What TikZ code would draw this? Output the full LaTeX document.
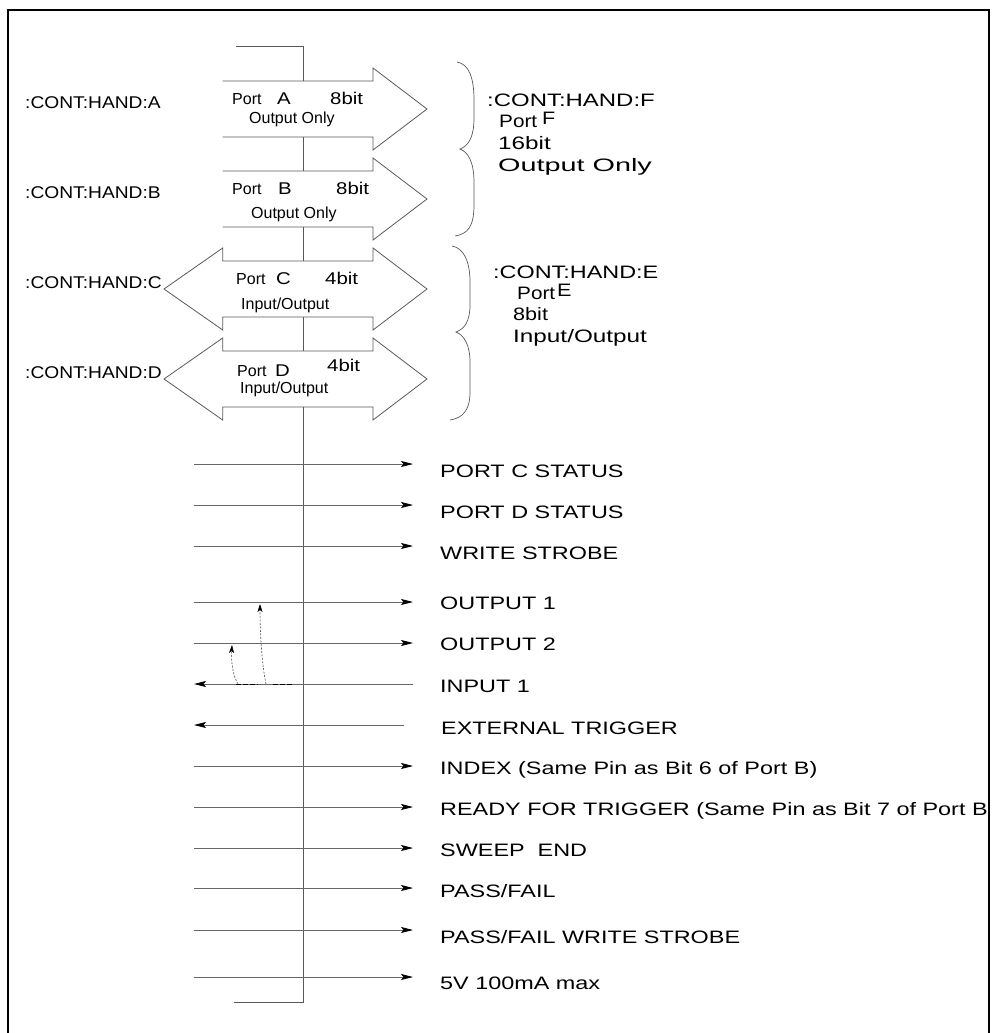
\documentclass[tikz,border=0pt]{standalone}
\usepackage{fontspec}
\setmainfont{Liberation Sans}
\usetikzlibrary{arrows.meta}
\newcommand{\RX}[2]{\scalebox{#1}[1]{\fontsize{18}{18}\selectfont #2}}
\newcommand{\RT}[1]{\RX{1.3}{#1}}
\newcommand{\LT}[1]{\scalebox{1.13}[1]{\fontsize{17}{17}\selectfont #1}}
\newcommand{\PT}[1]{{\fontsize{16}{16}\selectfont #1}}
\newcommand{\BT}[1]{\scalebox{1.2}[1]{\fontsize{17}{17}\selectfont #1}}
\begin{document}
\begin{tikzpicture}[x=1pt,y=-1pt,
  outline/.style={draw=black!65,line width=0.8pt},
  sig/.style={draw=black!60,line width=0.8pt,-{Stealth[length=12pt,width=6pt,inset=2.5pt,black]}},
  txt/.style={inner sep=0pt,anchor=base west},
  dotc/.style={draw=black!70,line width=0.6pt,dash pattern=on 2pt off 1.5pt,-{Stealth[length=8pt,width=5pt,inset=2pt,black]}},
  brace/.style={draw=black!65,line width=0.7pt}]
\useasboundingbox (0,0) rectangle (991,1033);

% top stub
\coordinate (stubL) at (236,46);
\coordinate (stubC) at (303,46);
\coordinate (aTop) at (303,81);
\draw[outline] (stubL) -- (stubC) -- (aTop);

% right-pointing port arrows A, B
\foreach \cy in {109,199}{
  \draw[outline] (222.7,{\cy-28}) -- (373,{\cy-28}) -- (373,{\cy-41}) -- (427,\cy)
     -- (373,{\cy+41}) -- (373,{\cy+28}) -- (222.7,{\cy+28});
}
% double arrows C, D
\foreach \cy in {289,379}{
  \draw[outline] (164,\cy) -- (222.7,{\cy-41}) -- (222.7,{\cy-28}) -- (373,{\cy-28}) -- (373,{\cy-41}) -- (427,\cy)
     -- (373,{\cy+41}) -- (373,{\cy+28}) -- (222.7,{\cy+28}) -- (222.7,{\cy+41}) -- cycle;
}
% centre bus line
\coordinate (ab1) at (303,137); \coordinate (ab2) at (303,171);
\coordinate (bc1) at (303,227); \coordinate (bc2) at (303,261);
\coordinate (cd1) at (303,317); \coordinate (cd2) at (303,351);
\coordinate (bus1) at (303,407); \coordinate (bus2) at (303,1002); \coordinate (bus3) at (234,1002);
\draw[outline] (ab1) -- (ab2);
\draw[outline] (bc1) -- (bc2);
\draw[outline] (cd1) -- (cd2);
\draw[outline] (bus1) -- (bus2) -- (bus3);

% port texts
\node[txt] (pA) at (232,104) {\PT{Port}};
\node[txt] (pAl) at (277,104) {\BT{A}};
\node[txt] (pAb) at (330,104) {\BT{8bit}};
\node[txt] (pAo) at (249,123) {\PT{Output Only}};
\node[txt] (pB) at (232,194) {\PT{Port}};
\node[txt] (pBl) at (278,194) {\BT{B}};
\node[txt] (pBb) at (336,194) {\BT{8bit}};
\node[txt] (pBo) at (251,218) {\PT{Output Only}};
\node[txt] (pC) at (236,284) {\PT{Port}};
\node[txt] (pCl) at (276,284) {\BT{C}};
\node[txt] (pCb) at (325,284) {\BT{4bit}};
\node[txt] (pCo) at (241,309) {\PT{Input/Output}};
\node[txt] (pD) at (237,376) {\PT{Port}};
\node[txt] (pDl) at (275,376) {\BT{D}};
\node[txt] (pDb) at (327,371) {\BT{4bit}};
\node[txt] (pDo) at (240,393) {\PT{Input/Output}};

% left labels
\node[txt] (hA) at (25,108) {\LT{:CONT:HAND:A}};
\node[txt] (hB) at (25,198) {\LT{:CONT:HAND:B}};
\node[txt] (hC) at (25,288) {\LT{:CONT:HAND:C}};
\node[txt] (hD) at (25,378) {\LT{:CONT:HAND:D}};

% braces
\draw[brace] (457,62) .. controls (469,64) and (474,78) .. (474,100) -- (474,118)
  .. controls (474,138) and (468,146) .. (460,149) .. controls (468,152) and (474,162) .. (474,182)
  -- (474,205) .. controls (474,226) and (468,234) .. (455,236);
\draw[brace] (452,246) .. controls (464,248) and (470,262) .. (470,282) -- (470,305)
  .. controls (470,322) and (464,329) .. (456,332) .. controls (464,335) and (470,345) .. (470,362)
  -- (470,392) .. controls (470,410) and (463,418) .. (450,420);

% right group texts
\node[txt] (hF) at (487,106) {\RX{1.33}{:CONT:HAND:F}};
\node[txt] (hF1) at (499,127) {\RX{1.15}{Port}};
\node[txt] (hF1b) at (542,124) {\RX{1.2}{F}};
\node[txt] (hF2) at (498,149) {\RX{1.35}{16bit}};
\node[txt] (hF3) at (498,171) {\RX{1.6}{Output Only}};
\node[txt] (hE) at (493,278) {\RX{1.3}{:CONT:HAND:E}};
\node[txt] (hE1) at (517,299) {\RX{1.15}{Port}};
\node[txt] (hE1b) at (557,296) {\RX{1.2}{E}};
\node[txt] (hE2) at (513,320) {\RX{1.2}{8bit}};
\node[txt] (hE3) at (513,342) {\RX{1.35}{Input/Output}};

% signal lines
\coordinate (s1L) at (194,464); \coordinate (s1R) at (413,464);
\coordinate (s2L) at (194,505); \coordinate (s2R) at (413,505);
\coordinate (s3L) at (194,546); \coordinate (s3R) at (413,546);
\coordinate (s4L) at (194,602); \coordinate (s4R) at (413,602);
\coordinate (s5L) at (194,643); \coordinate (s5R) at (413,643);
\coordinate (s6L) at (194,684); \coordinate (s6R) at (413,684);
\coordinate (s7L) at (194,725); \coordinate (s7R) at (404,725);
\coordinate (s8L) at (194,766); \coordinate (s8R) at (413,766);
\coordinate (s9L) at (194,807); \coordinate (s9R) at (413,807);
\coordinate (s10L) at (194,848); \coordinate (s10R) at (413,848);
\coordinate (s11L) at (194,888); \coordinate (s11R) at (413,888);
\coordinate (s12L) at (194,930); \coordinate (s12R) at (413,930);
\coordinate (s13L) at (194,977); \coordinate (s13R) at (413,977);
\draw[sig] (s1L) -- (s1R);
\draw[sig] (s2L) -- (s2R);
\draw[sig] (s3L) -- (s3R);
\draw[sig] (s4L) -- (s4R);
\draw[sig] (s5L) -- (s5R);
\draw[sig] (s6R) -- (s6L);
\draw[sig] (s7R) -- (s7L);
\draw[sig] (s8L) -- (s8R);
\draw[sig] (s9L) -- (s9R);
\draw[sig] (s10L) -- (s10R);
\draw[sig] (s11L) -- (s11R);
\draw[sig] (s12L) -- (s12R);
\draw[sig] (s13L) -- (s13R);

\node[txt] (t1) at (440,477) {\RT{PORT C STATUS}};
\node[txt] (t2) at (440,518) {\RT{PORT D STATUS}};
\node[txt] (t3) at (440,559) {\RT{WRITE STROBE}};
\node[txt] (t4) at (440,609) {\RT{OUTPUT 1}};
\node[txt] (t5) at (440,650) {\RT{OUTPUT 2}};
\node[txt] (t6) at (440,692) {\RT{INPUT 1}};
\node[txt] (t7) at (441,734) {\RT{EXTERNAL TRIGGER}};
\node[txt] (t8) at (440,774) {\RT{INDEX (Same Pin as Bit 6 of Port B)}};
\node[txt] (t9) at (440,815) {\RT{READY FOR TRIGGER (Same Pin as Bit 7 of Port B}};
\node[txt] (t10) at (440,856) {\RT{SWEEP\ \ END}};
\node[txt] (t11) at (440,897) {\RT{PASS/FAIL}};
\node[txt] (t12) at (440,943) {\RT{PASS/FAIL WRITE STROBE}};
\node[txt] (t13) at (440,989) {\RT{5V 100mA max}};

% dashed feedback paths
\coordinate (c1s) at (238,684); \coordinate (c1e) at (232,645);
\coordinate (c2s) at (266,684); \coordinate (c2e) at (260,604);
\draw[dotc] (c1s) .. controls (233,676) and (231,662) .. (c1e);
\draw[dotc] (c2s) .. controls (262,665) and (260,635) .. (c2e);
\coordinate (d1a) at (236,684); \coordinate (d1b) at (258,684);
\coordinate (d2a) at (273,684); \coordinate (d2b) at (292,684);
\draw[black,line width=0.8pt,dash pattern=on 5pt off 2pt] (d1a) -- (d1b);
\draw[black,line width=0.8pt,dash pattern=on 5pt off 2pt] (d2a) -- (d2b);

% frame
\coordinate (fBL) at (8,1045); \coordinate (fTL) at (8,10);
\coordinate (fTR) at (989,10); \coordinate (fBR) at (989,1045);
\draw[line width=2.2pt] (fBL) -- (fTL) -- (fTR) -- (fBR);
\end{tikzpicture}
\end{document}
